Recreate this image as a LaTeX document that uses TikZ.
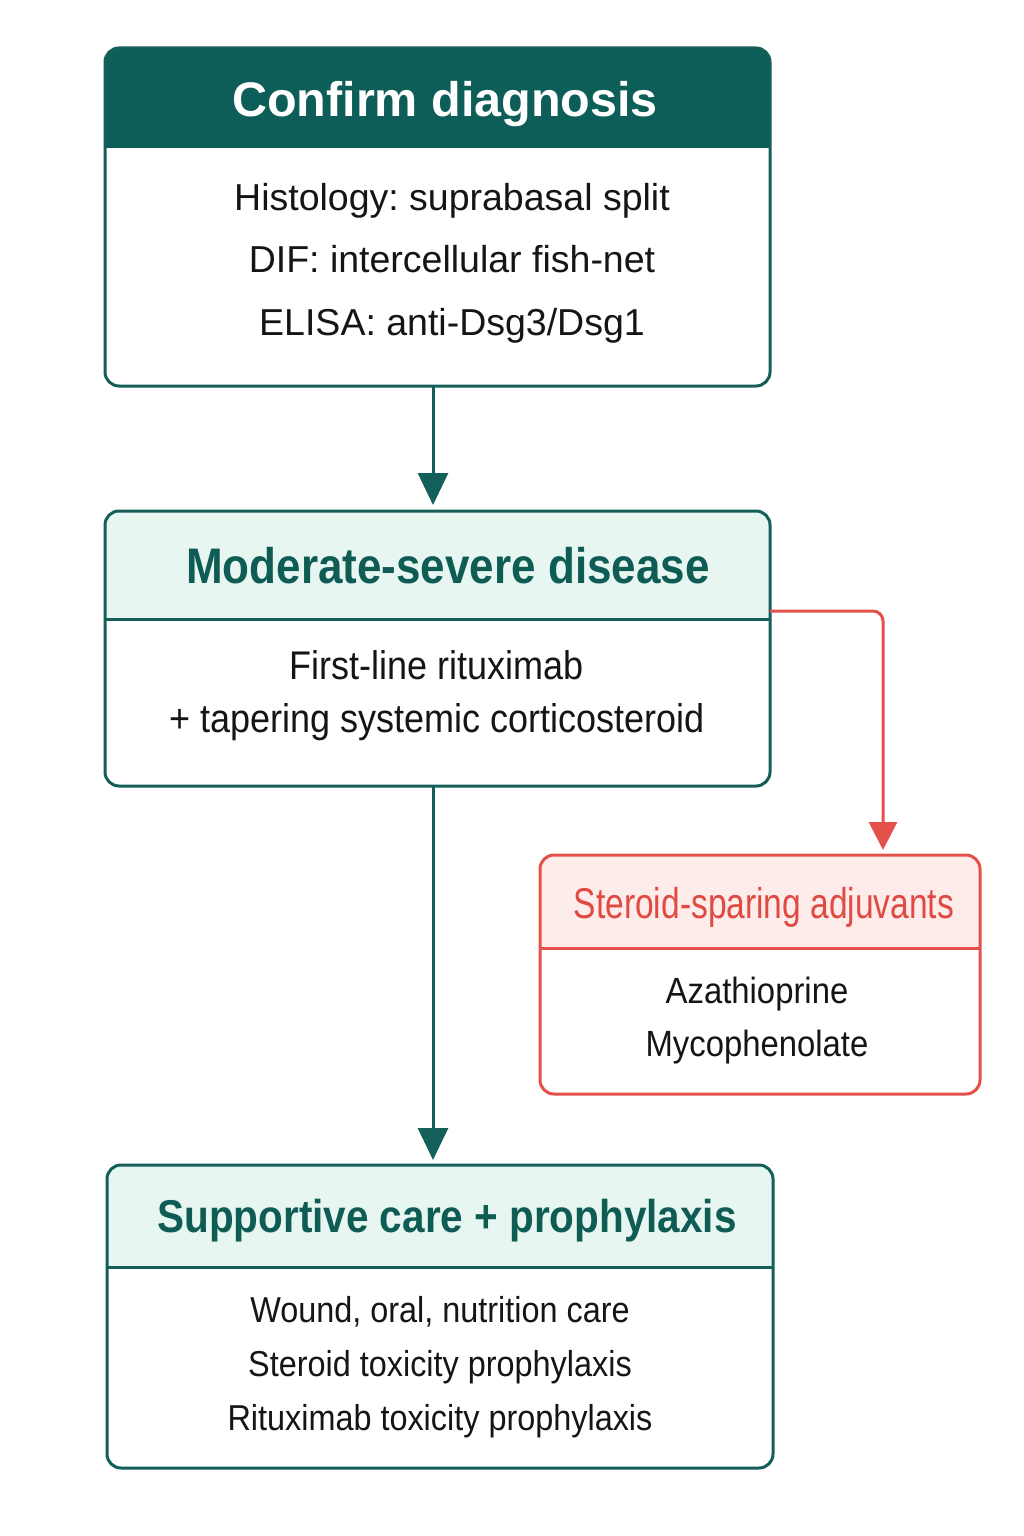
\documentclass[tikz,border=0pt]{standalone}
\usepackage{fontspec}
\setmainfont{Liberation Sans}
\newfontfamily\condfont[FakeStretch=0.88]{Liberation Sans}
\newfontfamily\bodycond[FakeStretch=0.9]{Liberation Sans}
\newfontfamily\redfont[FakeStretch=0.78]{Liberation Sans}
\usetikzlibrary{arrows.meta}
\definecolor{tealdark}{HTML}{0D5E58}
\definecolor{tealline}{HTML}{145F59}
\definecolor{tealtext}{HTML}{0F5C55}
\definecolor{teallight}{HTML}{E8F6F2}
\definecolor{redline}{HTML}{E3514A}
\definecolor{redfill}{HTML}{FDECEA}
\definecolor{redtext}{HTML}{E04A42}
\definecolor{bodyblack}{HTML}{151515}
\frenchspacing
\begin{document}
\frenchspacing
\begin{tikzpicture}[x=1pt,y=-1pt,
  boxshape/.style={rectangle, outer sep=0pt, inner sep=0pt, anchor=north west},
  tealborder/.style={draw=tealline, line width=3pt, rounded corners=14pt},
  redborder/.style={draw=redline, line width=3pt, rounded corners=14pt},
  bodytext/.style={align=center, text=bodyblack, inner sep=0pt},
  titletext/.style={inner sep=0pt, anchor=base},
  tealarrow/.style={draw=tealline, line width=3pt, -{Triangle[width=30pt,length=32pt]}},
  redarrow/.style={draw=redline, line width=3pt, rounded corners=10pt, -{Triangle[width=28pt,length=28pt]}}]
\useasboundingbox[fill=white] (0,0) rectangle (1024,1536);

% ---------- Box 1
\node[boxshape, minimum width=665pt, minimum height=338pt] (b1) at (105,48) {};
\begin{scope}
  \clip[rounded corners=14pt] (b1.north west) rectangle (b1.south east);
  \fill[tealdark] (b1.north west) rectangle ([yshift=-100pt]b1.north east);
\end{scope}
\draw[tealborder] (b1.north west) rectangle (b1.south east);
\node[titletext, text=white, font=\fontsize{48.5}{58}\selectfont\bfseries] (t1) at (445,117) {Confirm diagnosis};
\node[bodytext, font=\fontsize{37.5}{62.5}\selectfont] (d1) at (452,263) {Histology: suprabasal split\\DIF: intercellular fish-net\\ELISA: anti-Dsg3/Dsg1};

% ---------- Box 2
\node[boxshape, minimum width=665pt, minimum height=275pt] (b2) at (105,511) {};
\begin{scope}
  \clip[rounded corners=14pt] (b2.north west) rectangle (b2.south east);
  \fill[teallight] (b2.north west) rectangle ([yshift=-108pt]b2.north east);
\end{scope}
\draw[tealline, line width=3pt] ([yshift=-108pt]b2.north west) -- ([yshift=-108pt]b2.north east);
\draw[tealborder] (b2.north west) rectangle (b2.south east);
\node[titletext, text=tealtext, font=\condfont\fontsize{50}{60}\selectfont\bfseries] (t2) at (448,583) {Moderate-severe disease};
\node[bodytext, font=\bodycond\fontsize{40}{53}\selectfont] (d2) at (437,696) {First-line rituximab\\+ tapering systemic corticosteroid};

% ---------- Box 3
\node[boxshape, minimum width=440pt, minimum height=239pt] (b3) at (540,855) {};
\begin{scope}
  \clip[rounded corners=14pt] (b3.north west) rectangle (b3.south east);
  \fill[redfill] (b3.north west) rectangle ([yshift=-93pt]b3.north east);
\end{scope}
\draw[redline, line width=3pt] ([yshift=-93pt]b3.north west) -- ([yshift=-93pt]b3.north east);
\draw[redborder] (b3.north west) rectangle (b3.south east);
\node[titletext, text=redtext, font=\redfont\fontsize{43}{52}\selectfont] (t3) at (764,918) {Steroid-sparing adjuvants};
\node[bodytext, font=\bodycond\fontsize{36.5}{53}\selectfont] (d3) at (757,1020.5) {Azathioprine\\Mycophenolate};

% ---------- Box 4
\node[boxshape, minimum width=666pt, minimum height=303pt] (b4) at (107,1165) {};
\begin{scope}
  \clip[rounded corners=14pt] (b4.north west) rectangle (b4.south east);
  \fill[teallight] (b4.north west) rectangle ([yshift=-102pt]b4.north east);
\end{scope}
\draw[tealline, line width=3pt] ([yshift=-102pt]b4.north west) -- ([yshift=-102pt]b4.north east);
\draw[tealborder] (b4.north west) rectangle (b4.south east);
\node[titletext, text=tealtext, font=\condfont\fontsize{46}{56}\selectfont\bfseries] (t4) at (447,1232) {Supportive care + prophylaxis};
\node[bodytext, font=\bodycond\fontsize{36}{54}\selectfont] (d4) at (440,1367) {Wound, oral, nutrition care\\Steroid toxicity prophylaxis\\Rituximab toxicity prophylaxis};

% ---------- Connectors
\draw[tealarrow, shorten >=6pt] ([xshift=-4.5pt]b1.south) -- ([xshift=-4.5pt]b2.north);
\draw[tealarrow, shorten >=5pt] ([xshift=-4.5pt]b2.south) -- ([xshift=-4.5pt]b2.south |- b4.north);
\draw[redarrow, shorten >=5pt] ([yshift=-100pt]b2.north east) -| ([xshift=123pt]b3.north);
\end{tikzpicture}
\end{document}
